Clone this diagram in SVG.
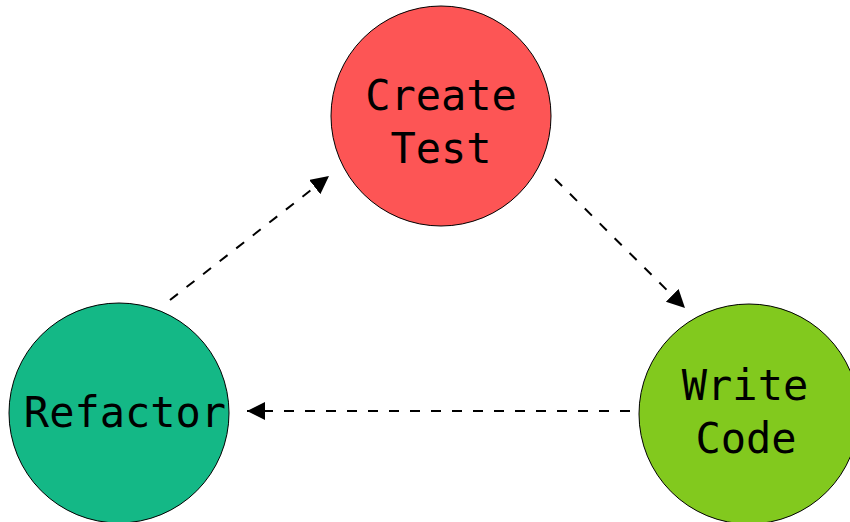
<svg xmlns="http://www.w3.org/2000/svg" width="850" height="522" viewBox="0 0 850 522">
  <style>
    .node { stroke: #000; stroke-width: 1; }
    .label { font-family: "DejaVu Sans Mono", "Liberation Mono", monospace; font-size: 42px; fill: #000; text-anchor: middle; }
    .edge { fill: none; stroke: #000; stroke-width: 2; stroke-dasharray: 10 11; }
  </style>
  <defs>
    <marker id="arrow" markerUnits="userSpaceOnUse" markerWidth="20" markerHeight="20" refX="18" refY="9" orient="auto">
      <path d="M0,0 L18,9 L0,18 Z" fill="#000"/>
    </marker>
  </defs>
  <rect width="850" height="522" fill="#fff"/>

  <g id="edges">
    <line class="edge" x1="170" y1="300" x2="329" y2="176" marker-end="url(#arrow)"/>
    <line class="edge" x1="555" y1="179" x2="685" y2="308" marker-end="url(#arrow)"/>
    <line class="edge" x1="630" y1="411" x2="247" y2="411" marker-end="url(#arrow)"/>
  </g>

  <g id="create-test">
    <circle class="node" cx="441" cy="116" r="110" fill="#fd5555"/>
    <text class="label" x="441" y="110">Create</text>
    <text class="label" x="441" y="163">Test</text>
  </g>

  <g id="refactor">
    <circle class="node" cx="119" cy="413" r="110" fill="#14b886"/>
    <text class="label" x="125" y="427">Refactor</text>
  </g>

  <g id="write-code">
    <circle class="node" cx="749" cy="414" r="110" fill="#82c91e"/>
    <text class="label" x="745" y="400">Write</text>
    <text class="label" x="746" y="453">Code</text>
  </g>
</svg>
